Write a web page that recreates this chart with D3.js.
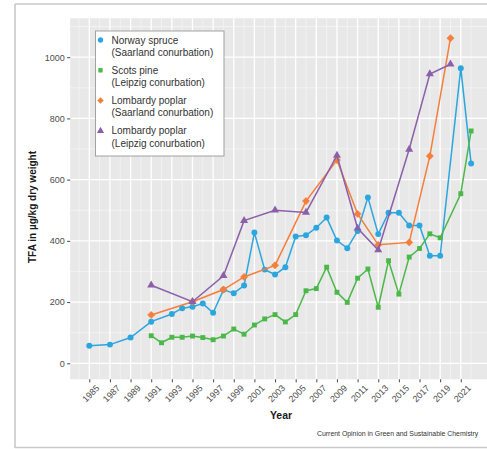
<!DOCTYPE html>
<html>
<head>
<meta charset="utf-8">
<script src="https://cdn.jsdelivr.net/npm/d3@7"></script>
<style>
  html, body { margin: 0; padding: 0; background: #fff; }
  svg { display: block; font-family: "Liberation Sans", Arial, sans-serif; }
</style>
</head>
<body>
<svg id="chart" width="487" height="449"></svg>
<script>
// Trans fatty acid (TFA) concentrations in tree samples by year
const spruceYears   = [1985, 1987, 1989, 1991, 1993, 1994, 1995, 1996, 1997, 1998, 1999, 2000, 2001, 2002, 2003, 2004, 2005, 2006, 2007, 2008, 2009, 2010, 2011, 2012, 2013, 2014, 2015, 2016, 2017, 2018, 2019, 2021, 2022];
const spruceValues  = [57, 61, 84, 136, 161, 180, 185, 195, 165, 240, 229, 254, 427, 306, 290, 314, 414, 418, 443, 476, 401, 376, 432, 542, 422, 492, 492, 450, 450, 351, 351, 964, 653];

const pineYears     = [1991, 1992, 1993, 1994, 1995, 1996, 1997, 1998, 1999, 2000, 2001, 2002, 2003, 2004, 2005, 2006, 2007, 2008, 2009, 2010, 2011, 2012, 2013, 2014, 2015, 2016, 2017, 2018, 2019, 2021, 2022];
const pineValues    = [90, 67, 85, 85, 89, 84, 77, 89, 112, 95, 125, 145, 159, 135, 159, 237, 244, 314, 232, 199, 278, 308, 183, 335, 226, 347, 375, 423, 410, 554, 759];

const poplarSYears  = [1991, 1995, 1998, 2000, 2003, 2006, 2009, 2011, 2013, 2016, 2018, 2020];
const poplarSValues = [158, 201, 241, 282, 320, 530, 664, 488, 387, 395, 677, 1062];

const poplarLYears  = [1991, 1995, 1998, 2000, 2003, 2006, 2009, 2011, 2013, 2016, 2018, 2020];
const poplarLValues = [255, 201, 286, 466, 500, 493, 679, 441, 370, 699, 945, 977];

const xTickYears  = d3.range(1985, 2022, 2);
const yTickValues = [0, 200, 400, 600, 800, 1000];

const seriesNames = [
  ["Norway spruce", "(Saarland conurbation)"],
  ["Scots pine", "(Leipzig conurbation)"],
  ["Lombardy poplar", "(Saarland conurbation)"],
  ["Lombardy poplar", "(Leipzig conurbation)"]
];
const seriesColors = ["#2ba6de", "#4cb84a", "#f47e3a", "#8c5fab"];
const seriesShapes = [d3.symbolCircle, d3.symbolSquare, d3.symbolDiamond2, d3.symbolTriangle];
const seriesSizes  = [28, 24, 34, 28];

const series = [
  { years: spruceYears,  values: spruceValues },
  { years: pineYears,    values: pineValues },
  { years: poplarSYears, values: poplarSValues },
  { years: poplarLYears, values: poplarLValues }
];

const svg = d3.select("#chart");

// Outer figure frame
const frame = svg.append("g").attr("stroke", "#c9c9c9").attr("stroke-width", 1.6);
frame.append("line").attr("x1", 15).attr("x2", 15).attr("y1", 4).attr("y2", 448);
frame.append("line").attr("x1", 15).attr("x2", 487).attr("y1", 4).attr("y2", 4);
frame.append("line").attr("x1", 15).attr("x2", 487).attr("y1", 447.5).attr("y2", 447.5);

const panel = { left: 70.2, right: 490.2, top: 18.3, bottom: 379.3 };

const x = d3.scaleLinear().domain([1983.15, 2023.85]).range([panel.left, panel.right]);
const y = d3.scaleLinear().domain([-52.3, 1127]).range([panel.bottom, panel.top]);

// Panel background
svg.append("rect")
  .attr("x", panel.left).attr("y", panel.top)
  .attr("width", panel.right - panel.left).attr("height", panel.bottom - panel.top)
  .attr("fill", "#e7e8e7");

// Grid lines: minor (even years, odd hundreds) and major (labelled breaks)
const grid = svg.append("g");
const minorYears = d3.range(1984, 2024, 2);
const minorVals = [100, 300, 500, 700, 900, 1100];
grid.selectAll(".vminor").data(minorYears).join("line")
  .attr("x1", d => x(d)).attr("x2", d => x(d))
  .attr("y1", panel.top).attr("y2", panel.bottom)
  .attr("stroke", "#f6f6f6").attr("stroke-width", 0.7);
grid.selectAll(".hminor").data(minorVals).join("line")
  .attr("x1", panel.left).attr("x2", panel.right)
  .attr("y1", d => y(d)).attr("y2", d => y(d))
  .attr("stroke", "#f6f6f6").attr("stroke-width", 0.7);
grid.selectAll(".vmajor").data(xTickYears).join("line")
  .attr("x1", d => x(d)).attr("x2", d => x(d))
  .attr("y1", panel.top).attr("y2", panel.bottom)
  .attr("stroke", "#ffffff").attr("stroke-width", 1.3);
grid.selectAll(".hmajor").data(yTickValues).join("line")
  .attr("x1", panel.left).attr("x2", panel.right)
  .attr("y1", d => y(d)).attr("y2", d => y(d))
  .attr("stroke", "#ffffff").attr("stroke-width", 1.3);

// Axes
const xAxis = svg.append("g")
  .attr("transform", `translate(0,${panel.bottom})`)
  .call(d3.axisBottom(x).tickValues(xTickYears).tickFormat(d3.format("d")).tickSize(3).tickPadding(2));
xAxis.select(".domain").remove();
xAxis.selectAll(".tick line").attr("stroke", "#444");
xAxis.selectAll(".tick text")
  .attr("font-size", 9).attr("fill", "#4d4d4d")
  .attr("text-anchor", "end")
  .attr("dy", "0.6em")
  .attr("transform", "translate(3,2) rotate(-45)");

const yAxis = svg.append("g")
  .attr("transform", `translate(${panel.left},0)`)
  .call(d3.axisLeft(y).tickValues(yTickValues).tickFormat(d3.format("d")).tickSize(3).tickPadding(2.5));
yAxis.select(".domain").remove();
yAxis.selectAll(".tick line").attr("stroke", "#444");
yAxis.selectAll(".tick text").attr("font-size", 9).attr("fill", "#4d4d4d");

// Axis titles
svg.append("text")
  .attr("x", 281).attr("y", 419)
  .attr("text-anchor", "middle")
  .attr("font-size", 10.5).attr("font-weight", "bold").attr("fill", "#1a1a1a")
  .text("Year");
svg.append("text")
  .attr("transform", "translate(36,207) rotate(-90)")
  .attr("text-anchor", "middle")
  .attr("font-size", 10).attr("font-weight", "bold").attr("fill", "#1a1a1a")
  .text("TFA in µg/kg dry weight");

// Series lines and markers
const line = d3.line().x(d => x(d[0])).y(d => y(d[1]));
series.forEach((s, i) => {
  const pts = s.years.map((yr, j) => [yr, s.values[j]]);
  svg.append("path")
    .datum(pts)
    .attr("d", line)
    .attr("fill", "none")
    .attr("stroke", seriesColors[i])
    .attr("stroke-width", 1.5);
  const sym = d3.symbol().type(seriesShapes[i]).size(seriesSizes[i]);
  svg.append("g").selectAll("path").data(pts).join("path")
    .attr("transform", d => `translate(${x(d[0])},${y(d[1])})`)
    .attr("d", sym)
    .attr("fill", seriesColors[i])
    .attr("stroke", seriesShapes[i] === d3.symbolDiamond2 ? seriesColors[i] : "none")
    .attr("stroke-width", 0.5);
});

// Legend
const legend = svg.append("g");
legend.append("rect")
  .attr("x", 95.5).attr("y", 31).attr("width", 128.5).attr("height", 125)
  .attr("fill", "#ffffff").attr("stroke", "#9a9a9a").attr("stroke-width", 0.9);
const legendRowY = [40, 70.3, 100.6, 130.9];
seriesNames.forEach((names, i) => {
  const g = legend.append("g").attr("transform", `translate(0,${legendRowY[i]})`);
  g.append("path")
    .attr("transform", "translate(100.5,0)")
    .attr("d", d3.symbol().type(seriesShapes[i]).size(seriesSizes[i] * 0.8))
    .attr("fill", seriesColors[i]);
  g.selectAll("text").data(names).join("text")
    .attr("x", 111.5).attr("y", (d, k) => k * 12.4 + 3.5)
    .attr("font-size", 10).attr("fill", "#333")
    .text(d => d);
});

// Source line
svg.append("text")
  .attr("x", 317).attr("y", 435.5)
  .attr("font-size", 6.9).attr("fill", "#333")
  .text("Current Opinion in Green and Sustainable Chemistry");
</script>
</body>
</html>
